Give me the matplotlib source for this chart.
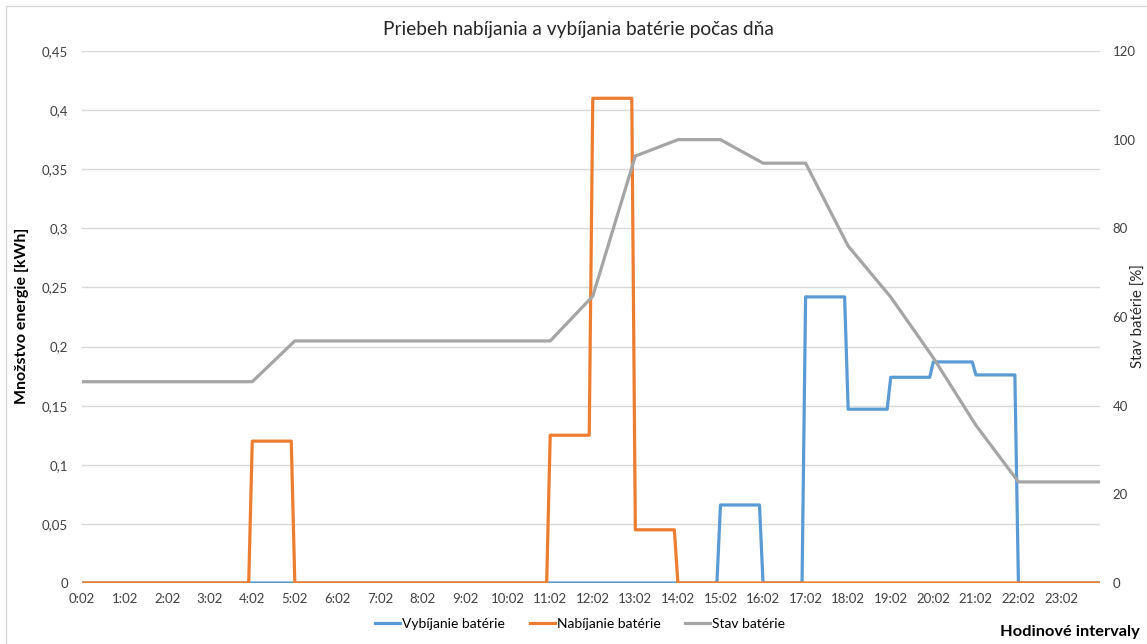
import numpy as np
import matplotlib
matplotlib.use('Agg')
from matplotlib import pyplot as plt
from matplotlib.ticker import FuncFormatter, FixedLocator
from matplotlib.patches import Rectangle

plt.rcParams['font.family'] = ['Lato', 'DejaVu Sans']

# hourly intervals h:02 .. h:57
hours = list(range(24))
hour_labels = [f'{h}:02' for h in hours]

# kWh per interval
vybijanie = [0, 0, 0, 0, 0, 0, 0, 0, 0, 0, 0, 0,
             0, 0, 0, 0.066, 0, 0.242, 0.147, 0.174, 0.187, 0.176, 0, 0]
nabijanie = [0, 0, 0, 0, 0.12, 0, 0, 0, 0, 0, 0, 0.125,
             0.41, 0.045, 0, 0, 0, 0, 0, 0, 0, 0, 0, 0]
# battery state [%] at h:02, last value at 23:57
stav = [45.4, 45.4, 45.4, 45.4, 45.4, 54.6, 54.6, 54.6, 54.6, 54.6, 54.6, 54.6,
        64.7, 96.3, 100, 100, 94.7, 94.7, 76.0, 64.5, 50.8, 35.6, 22.8, 22.8, 22.8]

W, H = 1147, 644
fig = plt.figure(figsize=(W/100, H/100), dpi=100)
fig.patches.append(Rectangle((6/W, -0.1), 1.2, (H-6)/H + 0.1, transform=fig.transFigure,
                             fill=False, edgecolor='#d9d9d9', lw=1))

ax = fig.add_axes([82/W, (H-583)/H, (1100-82)/W, (583-51)/H])
ax2 = ax.twinx()

def steps(vals):
    xs, ys = [], []
    for h, v in zip(hours, vals):
        xs += [h*60 + 2, h*60 + 57]
        ys += [v, v]
    return xs, ys

x_st = [h*60 + 2 for h in hours] + [23*60 + 57]

xb, yb = steps(vybijanie)
xn, yn = steps(nabijanie)
l1, = ax.plot(xb, yb, color='#5B9BD5', lw=2.3, label='Vybíjanie batérie', zorder=3)
l2, = ax.plot(xn, yn, color='#ED7D31', lw=2.3, label='Nabíjanie batérie', zorder=4)
l3, = ax2.plot(x_st, stav, color='#A5A5A5', lw=2.3, label='Stav batérie', zorder=5)

ax.set_xlim(2, 23*60 + 57)
ax.set_ylim(0, 0.45)
ax.set_yticks(np.arange(0, 0.451, 0.05))
ax.yaxis.set_major_formatter(FuncFormatter(lambda v, p: f'{v:.2f}'.rstrip('0').rstrip('.').replace('.', ',')))
ax.xaxis.set_major_locator(FixedLocator([h*60 + 2 for h in hours]))
ax.set_xticklabels(hour_labels)
ax.grid(axis='y', color='#d9d9d9', lw=1)
ax.set_axisbelow(True)

ax2.set_ylim(0, 120)
ax2.set_yticks(range(0, 121, 20))

for a in (ax, ax2):
    for s in a.spines.values():
        s.set_visible(False)
    a.tick_params(length=0, labelsize=9.5, colors='#404040')
ax.tick_params(axis='y', pad=10)
ax.tick_params(axis='x', pad=7)
ax2.tick_params(axis='y', pad=9)

fig.text(578/W, 1 - 30/H, 'Priebeh nabíjania a vybíjania batérie počas dňa',
         ha='center', va='center', fontsize=13.8, color='#262626')
fig.text(22/W, 1 - 316/H, 'Množstvo energie [kWh]', rotation=90, ha='center', va='center',
         fontsize=11.5, fontweight='bold', color='#000000')
fig.text(1139/W, 1 - 316/H, 'Stav batérie [%]', rotation=90, ha='center', va='center',
         fontsize=10.8, color='#262626')
fig.text(1140/W, 1 - 632/H, 'Hodinové intervaly', ha='right', va='center',
         fontsize=11.8, fontweight='bold', color='#000000')

fig.legend(handles=[l1, l2, l3], loc='center', bbox_to_anchor=(580/W, 1 - 624/H), ncol=3,
           frameon=False, fontsize=10, handlelength=1.8, handletextpad=0.15, columnspacing=1.8)

fig.savefig('out.png', dpi=100)
